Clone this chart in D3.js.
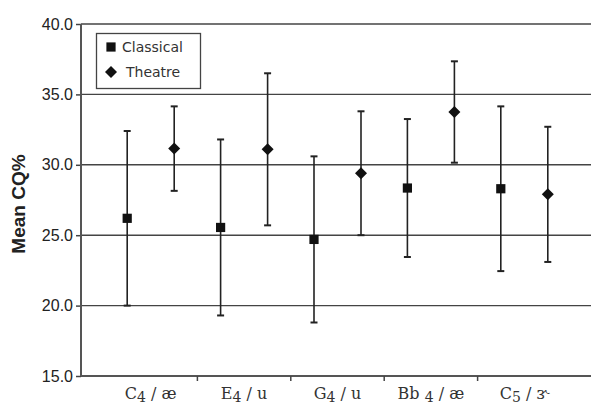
<!DOCTYPE html>
<html>
<head>
<meta charset="utf-8">
<title>Mean CQ%</title>
<style>
  body {margin:0; background:#fff;}
  svg {display:block;}
  .ytick text {font-family:"Liberation Sans", Arial, sans-serif; font-size:16px; fill:#222;}
  .xlab {font-family:"DejaVu Serif", serif; font-size:16px; fill:#333;}
  .legend text {font-family:"DejaVu Sans", sans-serif; font-size:14px; fill:#333;}
</style>
<script src="https://cdn.jsdelivr.net/npm/d3@7"></script>
</head>
<body>
<svg id="chart" width="591" height="408"></svg>
<script>
  var categories = ["C4/æ", "E4/u", "G4/u", "Bb4/æ", "C5/ɝ"];
  var labelMain  = ["C", "E", "G", "Bb ", "C"];
  var labelSub   = ["4", "4", "4", "4", "5"];
  var labelTail  = [" / æ", " / u", " / u", " / æ", " / ɝ"];
  var seriesNames = ["Classical", "Theatre"];
  var classicalMean = [26.2, 25.55, 24.7, 28.35, 28.3];
  var classicalErr  = [6.2, 6.25, 5.9, 4.9, 5.85];
  var theatreMean   = [31.15, 31.1, 29.4, 33.75, 27.9];
  var theatreErr    = [3.0, 5.4, 4.4, 3.6, 4.8];
  var yTicks = [15, 20, 25, 30, 35, 40];

  var svg = d3.select("#chart");
  var x = d3.scaleBand().domain(categories).range([104, 571]);
  var y = d3.scaleLinear().domain([15, 40]).range([376, 24]);
  var axisLeft = 81, axisRight = 591;
  var offset = 23.5;

  // gridlines
  svg.selectAll(".grid").data(yTicks.slice(1)).enter().append("line")
     .attr("x1", axisLeft).attr("x2", axisRight)
     .attr("y1", function(d){return y(d);}).attr("y2", function(d){return y(d);})
     .style("stroke", "#444").style("stroke-width", 1.4);

  // y axis
  var yAxis = svg.append("g").attr("class", "ytick")
     .attr("transform", "translate(" + axisLeft + ",0)")
     .call(d3.axisLeft(y).tickValues(yTicks).tickFormat(d3.format(".1f")).tickSize(5).tickPadding(3));
  yAxis.select(".domain").remove();
  yAxis.selectAll("line").style("stroke", "#444").style("stroke-width", 1.5);
  svg.append("line").attr("x1", axisLeft).attr("x2", axisLeft).attr("y1", y(40)).attr("y2", y(15))
     .style("stroke", "#555").style("stroke-width", 2);

  // x axis
  svg.append("line").attr("x1", axisLeft).attr("x2", axisRight).attr("y1", y(15)).attr("y2", y(15))
     .style("stroke", "#555").style("stroke-width", 2);
  svg.selectAll(".xtick").data(categories.slice(1)).enter().append("line")
     .attr("x1", function(d){return x(d);}).attr("x2", function(d){return x(d);})
     .attr("y1", y(15)).attr("y2", y(15) + 5)
     .style("stroke", "#444").style("stroke-width", 1.5);

  var labs = svg.selectAll(".xlab").data(categories).enter().append("text")
     .attr("class", "xlab")
     .attr("x", function(d){return x(d) + x.bandwidth()/2;})
     .attr("y", 399).attr("text-anchor", "middle");
  labs.append("tspan").text(function(d,i){return labelMain[i];});
  labs.append("tspan").attr("dy", 3).style("font-size", "14px").text(function(d,i){return labelSub[i];});
  labs.append("tspan").attr("dy", -3).text(function(d,i){return labelTail[i];});

  // y title
  svg.append("text")
     .attr("transform", "translate(25," + ((y(40)+y(15))/2 + 4) + ") rotate(-90)")
     .attr("text-anchor", "middle")
     .style("font-family", "Liberation Sans, Arial, sans-serif")
     .style("font-weight", "bold").style("font-size", "19px").style("fill", "#222")
     .text("Mean CQ%");

  // error bars + markers
  var series = [
    {name: seriesNames[0], mean: classicalMean, err: classicalErr, dx: -offset, sym: d3.symbolSquare, size: 85, rot: 0},
    {name: seriesNames[1], mean: theatreMean, err: theatreErr, dx: offset, sym: d3.symbolSquare, size: 72, rot: 45}
  ];
  series.forEach(function(s) {
    var g = svg.append("g");
    categories.forEach(function(c, i) {
      var cx = x(c) + x.bandwidth()/2 + s.dx;
      var hi = y(s.mean[i] + s.err[i]), lo = y(s.mean[i] - s.err[i]);
      g.append("line").attr("x1", cx).attr("x2", cx).attr("y1", hi).attr("y2", lo)
       .style("stroke", "#222").style("stroke-width", 1.6);
      [hi, lo].forEach(function(yy) {
        g.append("line").attr("x1", cx - 3.5).attr("x2", cx + 3.5).attr("y1", yy).attr("y2", yy)
         .style("stroke", "#222").style("stroke-width", 2);
      });
      g.append("path").attr("d", d3.symbol().type(s.sym).size(s.size)())
       .attr("transform", "translate(" + cx + "," + y(s.mean[i]) + ") rotate(" + s.rot + ")")
       .style("fill", "#111");
    });
  });

  // legend
  var legend = svg.append("g").attr("class", "legend");
  legend.append("rect").attr("x", 96.5).attr("y", 33.5).attr("width", 104).attr("height", 55)
        .style("fill", "#fff").style("stroke", "#444").style("stroke-width", 1.3);
  series.forEach(function(s, i) {
    var ly = 47 + i * 25;
    legend.append("path").attr("d", d3.symbol().type(s.sym).size(s.size)())
          .attr("transform", "translate(111," + ly + ") rotate(" + s.rot + ")").style("fill", "#111");
    legend.append("text").attr("x", i === 0 ? 122 : 126).attr("y", ly + 5).text(s.name);
  });
</script>
</body>
</html>
